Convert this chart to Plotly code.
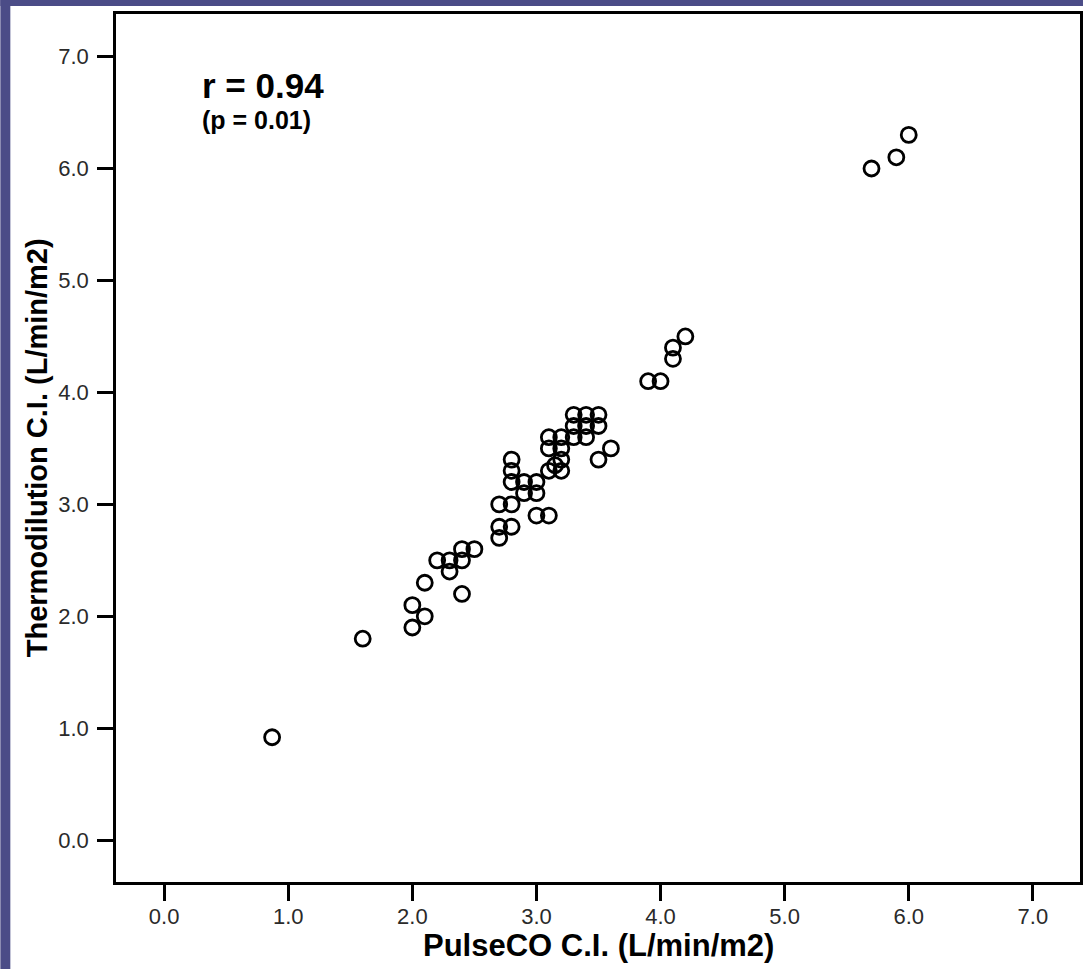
import plotly.graph_objects as go

# PulseCO C.I. (x) vs Thermodilution C.I. (y), L/min/m2
pulseco = [0.87, 1.6, 2.0, 2.0, 2.1, 2.1, 2.2, 2.3, 2.3, 2.4, 2.4, 2.4, 2.5,
           2.7, 2.7, 2.7, 2.8, 2.8, 2.8, 2.8, 2.8, 2.9, 3.0, 2.9, 3.0, 3.0, 3.1,
           3.1, 3.15, 3.2, 3.2, 3.1, 3.2, 3.1, 3.2, 3.3, 3.4, 3.3, 3.4, 3.5,
           3.3, 3.4, 3.5, 3.5, 3.6,
           3.9, 4.0, 4.1, 4.1, 4.2, 5.7, 5.9, 6.0]
thermo = [0.92, 1.8, 2.1, 1.9, 2.0, 2.3, 2.5, 2.5, 2.4, 2.5, 2.6, 2.2, 2.6,
          3.0, 2.8, 2.7, 3.0, 2.8, 3.4, 3.3, 3.2, 3.2, 3.2, 3.1, 3.1, 2.9, 2.9,
          3.3, 3.35, 3.3, 3.4, 3.5, 3.5, 3.6, 3.6, 3.6, 3.6, 3.7, 3.7, 3.7,
          3.8, 3.8, 3.8, 3.4, 3.5,
          4.1, 4.1, 4.3, 4.4, 4.5, 6.0, 6.1, 6.3]

tick_vals = [0, 1, 2, 3, 4, 5, 6, 7]
tick_text = ["0.0", "1.0", "2.0", "3.0", "4.0", "5.0", "6.0", "7.0"]

x_title = "PulseCO C.I. (L/min/m2)"
y_title = "Thermodilution C.I. (L/min/m2)"
r_text = "r = 0.94"
p_text = "(p = 0.01)"

FONT = "Liberation Sans, Arial, sans-serif"
SLIDE = "#4b4c87"

fig = go.Figure()
fig.add_trace(go.Scatter(
    x=pulseco, y=thermo, mode="markers",
    marker=dict(symbol="circle-open", size=15, color="black",
                line=dict(width=2.8, color="black")),
    showlegend=False, hoverinfo="x+y"))

W, H = 1086, 969
L, R, T, B = 116, 3, 14, 87
pw, ph = W - L - R, H - T - B

def px_x(px):
    return (px - L) / pw

def px_y(py):
    return (H - B - py) / ph

axis_common = dict(
    tickvals=tick_vals, ticktext=tick_text,
    showgrid=False, zeroline=False,
    showline=True, linecolor="black", linewidth=2.5, mirror=True,
    ticks="outside", ticklen=16, tickwidth=2.5, tickcolor="black",
    tickfont=dict(family=FONT, size=22, color="#2a2a2a"),
    fixedrange=True,
)

fig.update_layout(
    width=W, height=H,
    margin=dict(l=L, r=R, t=T, b=B, pad=0),
    paper_bgcolor="white", plot_bgcolor="white",
    xaxis=dict(range=[-0.388, 7.38], ticklabelstandoff=-3, **axis_common),
    yaxis=dict(range=[-0.373, 7.38], ticklabelstandoff=4, **axis_common),
    font=dict(family=FONT),
    annotations=[
        dict(text=x_title, xref="paper", yref="paper", x=px_x(600), y=px_y(946),
             xanchor="center", yanchor="middle", showarrow=False,
             font=dict(family=FONT, size=31, color="black", weight="bold")),
        dict(text=y_title, xref="paper", yref="paper", x=px_x(37), y=0.5,
             xanchor="center", yanchor="middle", textangle=-90, showarrow=False,
             font=dict(family=FONT, size=29, color="black", weight="bold")),
        dict(text=r_text, xref="paper", yref="paper", x=px_x(200), y=px_y(86),
             xanchor="left", yanchor="middle", showarrow=False,
             font=dict(family=FONT, size=35, color="black", weight="bold")),
        dict(text=p_text, xref="paper", yref="paper", x=px_x(200), y=px_y(120),
             xanchor="left", yanchor="middle", showarrow=False,
             font=dict(family=FONT, size=25, color="black", weight="bold")),
    ],
    shapes=[
        dict(type="rect", xref="paper", yref="paper", layer="below",
             x0=px_x(0), x1=px_x(10), y0=px_y(H), y1=px_y(0),
             fillcolor=SLIDE, line=dict(width=0)),
        dict(type="rect", xref="paper", yref="paper", layer="below",
             x0=px_x(0), x1=px_x(W), y0=px_y(6), y1=px_y(0),
             fillcolor=SLIDE, line=dict(width=0)),
    ],
)

fig.write_html("out.html",
               config={"displayModeBar": False},
               post_script="document.body.style.margin='0';document.body.style.overflow='hidden';")
